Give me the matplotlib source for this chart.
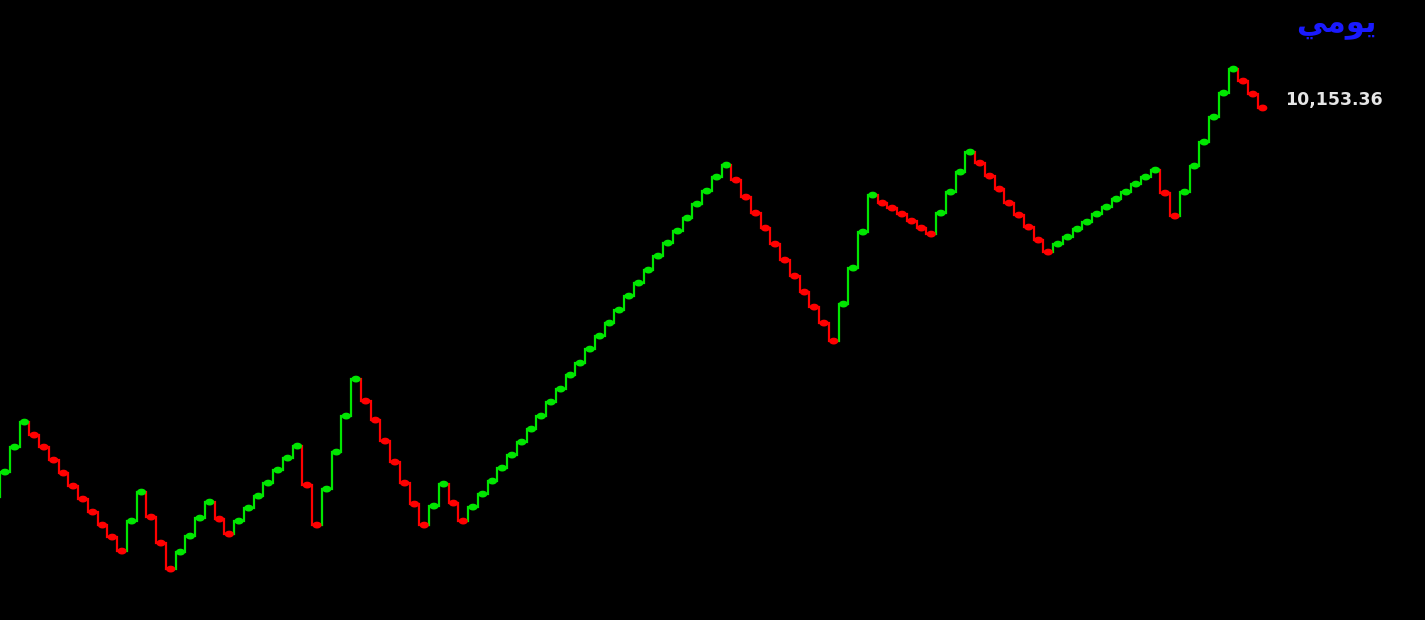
import numpy as np
import matplotlib
matplotlib.use("Agg")
import matplotlib.pyplot as plt
from matplotlib.path import Path

# daily closes (first one sits just off the left edge)
closes = [8597, 8697, 8797, 8897, 8845, 8797, 8745, 8693, 8641, 8589,
          8537, 8485, 8437, 8381, 8501, 8617, 8517, 8413, 8309, 8377,
          8441, 8513, 8577, 8509, 8449, 8501, 8553, 8601, 8653, 8705,
          8753, 8801, 8645, 8485, 8629, 8777, 8921, 9069, 8981, 8905,
          8821, 8737, 8653, 8569, 8485, 8561, 8649, 8573, 8501, 8557,
          8609, 8661, 8713, 8765, 8817, 8869, 8921, 8977, 9029, 9085,
          9133, 9189, 9241, 9293, 9345, 9401, 9453, 9505, 9561, 9613,
          9661, 9713, 9769, 9821, 9877, 9925, 9865, 9797, 9733, 9673,
          9609, 9545, 9481, 9417, 9357, 9293, 9221, 9369, 9513, 9657,
          9805, 9773, 9753, 9729, 9701, 9673, 9649, 9733, 9817, 9897,
          9977, 9933, 9881, 9829, 9773, 9725, 9677, 9625, 9577, 9609,
          9637, 9669, 9697, 9729, 9757, 9789, 9817, 9849, 9877, 9905,
          9813, 9721, 9817, 9921, 10017, 10117, 10213, 10309, 10261, 10209,
          10153.36]
last_label = "10,153.36"
title = "\uFEF2\uFEE3\uFEEE\uFEF3"   # يومي in presentation forms (matplotlib doesn't shape arabic)

UP = '#00e600'
DOWN = '#ff0000'

x = np.arange(len(closes)) - 1
y = np.array(closes, dtype=float)

fig = plt.figure(figsize=(14.25, 6.2), dpi=100)
fig.patch.set_facecolor('black')
ax = fig.add_axes([0, 0, 1, 1])
ax.set_facecolor('black')
ax.set_axis_off()

cols = [UP]
for i in range(1, len(y)):
    c = UP if y[i] >= y[i-1] else DOWN
    cols.append(c)
    xm = x[i-1] + 0.5
    ax.plot([x[i-1], xm, xm, x[i]], [y[i-1], y[i-1], y[i], y[i]],
            color=c, lw=1.6, solid_joinstyle='miter', zorder=2)

# small flat oval marker
t = np.linspace(0, 2*np.pi, 40)
oval = Path(np.column_stack([1.35*np.cos(t), np.sin(t)]))
ax.scatter(x, y, marker=oval, s=44, c=cols, linewidths=0, zorder=3)

ax.text(x[-1] + 2.3, y[-1] + 30, last_label, color='#e6e6e6', fontsize=12.5,
        fontweight='bold', family='DejaVu Sans', va='center', ha='left')
fig.text(0.966, 0.960, title, color='#1a1aff', fontsize=22, fontweight='bold',
         family='DejaVu Sans', ha='right', va='center')

ax.set_xlim(-5/9.75, 1420/9.75)
ax.set_ylim(8105.36, 10585.36)

fig.savefig('out.png', dpi=100, facecolor='black')
